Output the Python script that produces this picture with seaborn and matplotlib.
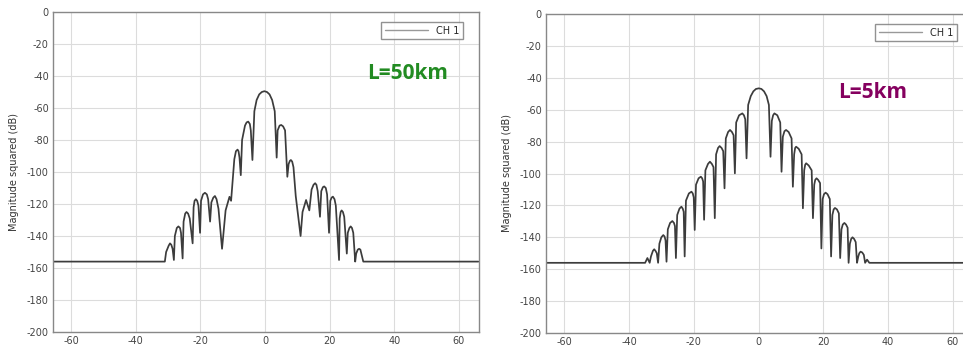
import matplotlib
matplotlib.use("Agg")
import matplotlib.pyplot as plt
import seaborn as sns
import pandas as pd

# ---- data ----
# Panel 1: L=50km
x_50 = [-66, -32.0, -31.0,
        -30.6, -29.8, -29.4, -29.0, -28.6, -28.2,
        -27.9, -27.3, -26.8, -26.3, -26.0, -25.5,
        -25.2, -24.7, -24.3, -23.8, -23.3, -22.4,
        -22.1, -21.8, -21.4, -21.0, -20.6, -20.1,
        -19.8, -19.2, -18.6, -18.0, -17.6, -17.0,
        -16.6, -16.0, -15.5, -15.0, -14.4, -13.3,
        -12.2, -11.0, -10.5, -9.5, -9.0, -8.5, -8.2, -7.9, -7.5,
        -7.1, -6.2, -5.7, -5.2, -4.7, -4.4, -3.9,
        -3.3, -2.6, -1.8, -1.0, -0.2, 0.6, 1.4, 2.2, 3.0, 3.6,
        3.9, 4.5, 5.0, 5.6, 6.2, 6.9,
        7.3, 7.7, 8.0, 8.4, 8.8, 9.5, 11.0,
        11.6, 12.7, 13.7, 14.4, 15.0, 15.5, 15.9, 16.3, 17.0,
        17.4, 17.9, 18.3, 18.8, 19.2, 19.8,
        20.2, 20.6, 21.0, 21.5, 21.9, 22.9,
        23.1, 23.4, 23.7, 24.1, 24.5, 25.3,
        25.6, 26.1, 26.5, 26.9, 27.3, 27.9,
        28.2, 28.7, 29.1, 29.5, 29.8, 30.4,
        66]
y_50 = [-156, -156, -156,
        -150, -146, -144.6, -145.5, -148, -155,
        -140, -135, -134, -135, -138, -154,
        -131, -126, -125, -126, -129, -144.6,
        -122, -118, -117, -118, -121, -138,
        -118, -114, -113, -114, -117, -131,
        -119, -116, -115, -117, -123, -148,
        -124, -115.5, -118, -92, -87, -86, -87, -91, -102,
        -80, -71, -69, -68.5, -70, -74, -92.5,
        -62, -55, -51.5, -50, -49.5, -50, -51.5, -55, -62, -91,
        -74, -71, -70.6, -71.5, -74, -103,
        -95, -93, -92.5, -93.5, -97, -115, -140,
        -125, -117.5, -124, -111, -108, -107, -108, -112, -128,
        -112, -109.5, -109, -110, -114, -138,
        -118, -116, -115.4, -117, -121, -155,
        -129, -125, -124, -125, -128, -151,
        -138, -135, -134, -135, -138, -156,
        -151, -148.5, -148, -148.5, -151, -156,
        -156]

# Panel 2: L=5km
x_5 = [-66, -35.0, -34.3, -33.6,
       -33.2, -32.6, -32.2, -31.8, -31.4, -31.0,
       -30.6, -30.0, -29.4, -29.0, -28.7, -28.4,
       -28.0, -27.3, -26.6, -26.1, -25.8, -25.5,
       -25.1, -24.4, -23.8, -23.4, -23.1, -22.8,
       -22.4, -21.5, -20.7, -20.3, -20.0, -19.7,
       -19.3, -18.5, -17.8, -17.4, -17.1, -16.8,
       -16.4, -15.6, -15.0, -14.4, -13.9, -13.5,
       -13.1, -12.5, -12.0, -11.4, -10.9, -10.5,
       -10.1, -9.4, -8.8, -8.2, -7.7, -7.3,
       -6.9, -6.0, -5.0, -4.5, -4.1, -3.7,
       -3.2, -2.4, -1.6, -0.8, 0.1, 0.9, 1.7, 2.5, 3.2, 3.7,
       4.1, 4.5, 4.9, 5.8, 6.7, 7.1,
       7.5, 8.0, 8.5, 9.3, 10.2, 10.6,
       11.0, 11.3, 11.6, 12.4, 13.3, 13.7,
       14.1, 14.4, 14.7, 15.5, 16.4, 16.8,
       17.2, 17.5, 17.9, 18.4, 19.0, 19.4,
       19.8, 20.2, 20.7, 21.3, 22.0, 22.4,
       22.8, 23.2, 23.6, 24.2, 24.8, 25.2,
       25.6, 26.0, 26.5, 27.0, 27.5, 27.8,
       28.2, 28.6, 29.0, 29.5, 30.0, 30.4,
       30.8, 31.1, 31.5, 32.0, 32.5, 32.9,
       33.5, 34.2, 66]
y_5 = [-156, -156, -153, -156,
       -152, -148.5, -147.5, -148.5, -150, -156,
       -144, -140, -138.6, -139.5, -142, -155.3,
       -135, -131, -129.8, -131, -133, -153,
       -126, -122, -120.8, -122, -124, -152,
       -117, -112.5, -111.4, -112.5, -115, -135.4,
       -107, -103, -102, -103, -105, -129,
       -98, -94, -92.6, -94, -96, -128,
       -88, -84, -82.8, -84, -86, -109.3,
       -78, -74, -72.7, -74, -76, -99.9,
       -68, -63.5, -62.3, -63.5, -66, -90.5,
       -57, -51.5, -48.5, -47, -46.6, -47, -48.5, -51.5, -57, -89.5,
       -67, -63.5, -62.3, -63.5, -68, -98.9,
       -77, -73.5, -72.7, -74, -78, -108.3,
       -88, -84, -83.2, -84.5, -88, -121.8,
       -98, -94.5, -93.6, -95, -98, -128,
       -107, -104, -103, -104, -106, -147,
       -116, -113, -112, -113, -116, -152,
       -126, -122.5, -121.6, -122.5, -125, -153,
       -135, -132, -131, -132, -134, -156,
       -144, -141, -140, -141, -143, -156,
       -152, -150, -149, -149.5, -151, -156,
       -154, -156, -156]

x_ticks = [-60, -40, -20, 0, 20, 40, 60]
y_ticks = [0, -20, -40, -60, -80, -100, -120, -140, -160, -180, -200]
legend_label = "CH 1"
y_label = "Magnitude squared (dB)"
titles = ["L=50km", "L=5km"]
title_colors = ["#228b22", "#85005f"]

sns.set_theme(style="white")
plt.rcParams['font.family'] = ['DejaVu Sans']

fig = plt.figure(figsize=(9.63, 3.52), dpi=100)
ax1 = fig.add_axes([53 / 963, 1 - 332 / 352, 426 / 963, 320 / 352])
ax2 = fig.add_axes([546 / 963, 1 - 333 / 352, 427 / 963, 319 / 352])

panels = [(ax1, x_50, y_50, (0.833, 0.809)), (ax2, x_5, y_5, (0.766, 0.755))]
for i, (ax, xs, ys, tpos) in enumerate(panels):
    df = pd.DataFrame({"x": xs, "y": ys, "s": legend_label})
    sns.lineplot(data=df, x="x", y="y", hue="s", palette=["#3c3c3c"],
                 estimator=None, sort=False, lw=1.25, ax=ax)
    ax.set_xlim(-65.6, 66.2)
    ax.set_ylim(-200, 0)
    ax.set_xticks(x_ticks)
    ax.set_yticks(y_ticks)
    ax.set_xticklabels([str(t) for t in x_ticks])
    ax.set_yticklabels([str(t) for t in y_ticks])
    ax.tick_params(axis="both", length=0, labelsize=7, colors="#444444", pad=3)
    ax.grid(True, color="#dcdcdc", lw=0.8)
    for sp in ax.spines.values():
        sp.set_color("#888888")
        sp.set_linewidth(1.0)
    ax.set_xlabel("")
    ax.set_ylabel(y_label, fontsize=7, color="#333333", labelpad=6)
    leg = ax.legend(loc="upper right", fontsize=7, frameon=True, fancybox=False,
                    borderaxespad=0.5, handlelength=4.5, borderpad=0.4,
                    bbox_to_anchor=(0.975, 0.985))
    leg.get_frame().set_edgecolor("#777777")
    leg.get_frame().set_linewidth(1.0)
    for line in leg.get_lines():
        line.set_color("#999999")
        line.set_linewidth(1.0)
    ax.text(tpos[0], tpos[1], titles[i], transform=ax.transAxes, ha="center",
            va="center", fontsize=15, fontweight="bold", color=title_colors[i],
            family=["Open Sans", "DejaVu Sans"])

fig.savefig("out.png", dpi=100)
